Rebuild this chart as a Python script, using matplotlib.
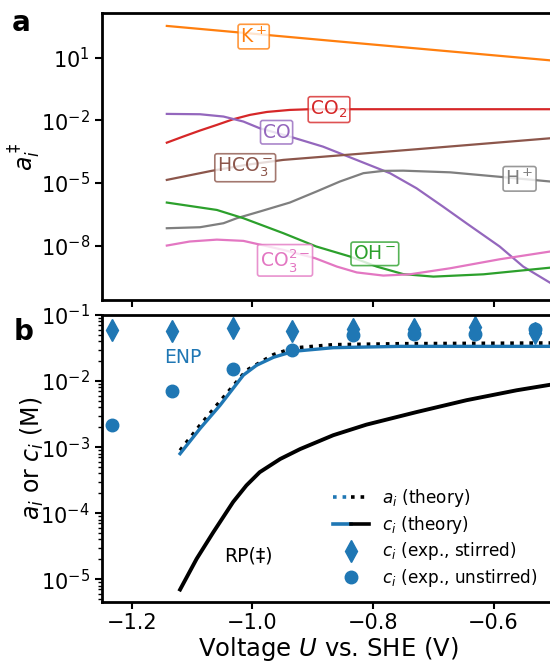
import numpy as np
import matplotlib
matplotlib.use('Agg')
import matplotlib.pyplot as plt
from matplotlib.lines import Line2D
from matplotlib.legend_handler import HandlerTuple
from matplotlib.ticker import NullLocator

plt.rcParams['font.family'] = ['DejaVu Sans']
plt.rcParams['mathtext.fontset'] = 'dejavusans'

# ---- panel a: activities a_i (log10 values) ----
k_u = [-1.142, -0.824, -0.502]
k_log = [2.516, 1.687, 0.858]

co2_u = [-1.142, -1.115, -1.087, -1.059, -1.032, -1.004, -0.976, -0.938, -0.905, -0.502]
co2_log = [-3.07, -2.78, -2.49, -2.22, -1.95, -1.74, -1.60, -1.503, -1.47, -1.47]

co_u = [-1.142, -1.087, -1.048, -1.015, -0.988, -0.938, -0.883, -0.827, -0.772, -0.728,
        -0.684, -0.645, -0.590, -0.551, -0.502]
co_log = [-1.694, -1.71, -1.82, -2.06, -2.38, -2.78, -3.26, -3.90, -4.53, -5.25,
          -6.13, -6.93, -8.04, -9.00, -9.85]

hco3_u = [-1.142, -1.068, -1.010, -0.949, -0.728, -0.502]
hco3_log = [-4.852, -4.42, -4.13, -3.895, -3.385, -2.85]

h_u = [-1.142, -1.087, -1.048, -1.026, -0.988, -0.938, -0.894, -0.855, -0.816, -0.783,
       -0.750, -0.672, -0.584, -0.502]
h_log = [-7.165, -7.117, -6.925, -6.686, -6.367, -5.936, -5.41, -4.93, -4.53, -4.42,
         -4.41, -4.49, -4.72, -4.94]

oh_u = [-1.142, -1.059, -1.015, -0.949, -0.894, -0.838, -0.794, -0.750, -0.700, -0.617, -0.502]
oh_log = [-5.936, -6.29, -6.686, -7.40, -8.04, -8.52, -9.00, -9.36, -9.48, -9.37, -9.04]

co3_u = [-1.142, -1.104, -1.059, -1.015, -0.949, -0.896, -0.860, -0.827, -0.783, -0.739,
         -0.672, -0.590, -0.502]
co3_log = [-7.994, -7.80, -7.71, -7.77, -8.20, -8.60, -9.00, -9.28, -9.43, -9.37,
           -9.08, -8.65, -8.26]

# label text, colour, position (U, log10 a)
species = ['K$^+$', 'CO$_2$', 'CO', 'HCO$_3^-$', 'H$^+$', 'OH$^-$', 'CO$_3^{2-}$']
colors = ['#ff7f0e', '#d62728', '#9467bd', '#8c564b', '#7f7f7f', '#2ca02c', '#e377c2']
label_u = [-0.998, -0.873, -0.960, -1.012, -0.557, -0.797, -0.946]
label_log = [2.006, -1.487, -2.571, -4.27, -4.80, -8.39, -8.70]

# ---- panel b: concentrations (log10 M) ----
a_u = [-1.120, -1.087, -1.054, -1.010, -0.965, -0.932, -0.866, -0.755, -0.502]
a_log = [-3.05, -2.67, -2.31, -1.84, -1.60, -1.50, -1.45, -1.435, -1.424]

c_enp_u = [-1.120, -1.087, -1.054, -1.015, -0.993, -0.965, -0.932, -0.866, -0.755, -0.502]
c_enp_log = [-3.10, -2.72, -2.37, -1.91, -1.76, -1.64, -1.55, -1.495, -1.475, -1.475]

c_rp_u = [-1.120, -1.0925, -1.065, -1.032, -1.010, -0.988, -0.954, -0.921, -0.866,
          -0.811, -0.728, -0.645, -0.562, -0.502]
c_rp_log = [-5.156, -4.69, -4.29, -3.83, -3.58, -3.38, -3.18, -3.03, -2.82,
            -2.66, -2.47, -2.29, -2.14, -2.05]

exp_u = [-1.233, -1.134, -1.033, -0.934, -0.833, -0.732, -0.631, -0.531]
stirred = [0.0586, 0.0575, 0.0635, 0.0575, 0.0617, 0.0617, 0.0660, 0.0537]
unstirred = [0.00218, 0.00705, 0.0154, 0.0292, 0.0492, 0.0521, 0.0521, 0.0621]

blue = '#1f77b4'

# axes run a few pixels past the right edge of the picture (cropped figure)
fig = plt.figure(figsize=(5.5, 6.62), dpi=100)
ax1 = fig.add_axes([0.1849, 0.5468, 0.8223, 0.4331])
ax2 = fig.add_axes([0.1849, 0.0911, 0.8223, 0.4331], sharex=ax1)

curves = [(k_u, k_log), (co2_u, co2_log), (co_u, co_log), (hco3_u, hco3_log),
          (h_u, h_log), (oh_u, oh_log), (co3_u, co3_log)]
for (u, lg), col in zip(curves, colors):
    ax1.plot(u, np.power(10.0, lg), color=col, lw=1.6)

for name, col, lu, ll in zip(species, colors, label_u, label_log):
    ax1.text(lu, 10 ** ll, name, color=col, fontsize=13.5, ha='center', va='center',
             bbox=dict(boxstyle='round,pad=0.12', fc='white', ec=col, alpha=0.8, lw=1.2))

ax1.set_yscale('log')
ax1.set_ylim(10 ** -10.6, 10 ** 3.12)
ax1.set_yticks([1e1, 1e-2, 1e-5, 1e-8])
ax1.yaxis.set_minor_locator(NullLocator())
ax1.set_ylabel(r'$a_i^\ddagger$', fontsize=17)
ax1.yaxis.set_label_coords(-0.132, 0.5)
ax1.tick_params(labelbottom=False)

# panel b
ax2.plot(a_u, np.power(10.0, a_log), color='black', ls=':', lw=2.6)
ax2.plot(c_enp_u, np.power(10.0, c_enp_log), color=blue, lw=2.4)
ax2.plot(c_rp_u, np.power(10.0, c_rp_log), color='black', lw=2.8)
ax2.plot(exp_u, stirred, 'd', color=blue, ms=11, ls='none')
ax2.plot(exp_u, unstirred, 'o', color=blue, ms=9, ls='none')

ax2.text(-1.115, 10 ** -1.65, 'ENP', color=blue, fontsize=13.5, ha='center', va='center')
ax2.text(-1.006, 10 ** -4.65, 'RP(‡)', color='black', fontsize=13.5, ha='center', va='center')

ax2.set_yscale('log')
ax2.set_ylim(10 ** -5.34, 1e-1)
ax2.set_xticks([-1.2, -1.0, -0.8, -0.6])
ax2.set_xlim(-1.25, -0.5)
ax2.set_ylabel(r'$a_i$ or $c_i$ (M)', fontsize=17)
ax2.yaxis.set_label_coords(-0.124, 0.5)
ax2.set_xlabel(r'Voltage $U$ vs. SHE (V)', fontsize=17.5, labelpad=1)

h_a = (Line2D([], [], color=blue, ls=':', lw=2.6), Line2D([], [], color='black', ls=':', lw=2.6))
h_c = (Line2D([], [], color=blue, lw=2.6), Line2D([], [], color='black', lw=2.6))
h_s = Line2D([], [], marker='d', color=blue, ms=11, ls='none')
h_un = Line2D([], [], marker='o', color=blue, ms=9, ls='none')
ax2.legend([h_a, h_c, h_s, h_un],
           [r'$a_i$ (theory)', r'$c_i$ (theory)', r'$c_i$ (exp., stirred)', r'$c_i$ (exp., unstirred)'],
           handler_map={tuple: HandlerTuple(ndivide=None, pad=0.0)},
           loc='upper left', bbox_to_anchor=(0.512, 0.40), frameon=False, fontsize=12.2,
           borderpad=0, borderaxespad=0, handlelength=2.1, handletextpad=0.8, labelspacing=0.28)

for ax in (ax1, ax2):
    for sp in ax.spines.values():
        sp.set_linewidth(2.0)
    ax.tick_params(which='major', direction='out', length=5, width=1.5, labelsize=15)
    ax.tick_params(which='minor', direction='out', length=3, width=1.0)

fig.text(0.022, 0.986, 'a', fontsize=20, fontweight='bold', va='top', ha='left')
fig.text(0.024, 0.52, 'b', fontsize=20, fontweight='bold', va='top', ha='left')

fig.savefig('out.png', dpi=100)
